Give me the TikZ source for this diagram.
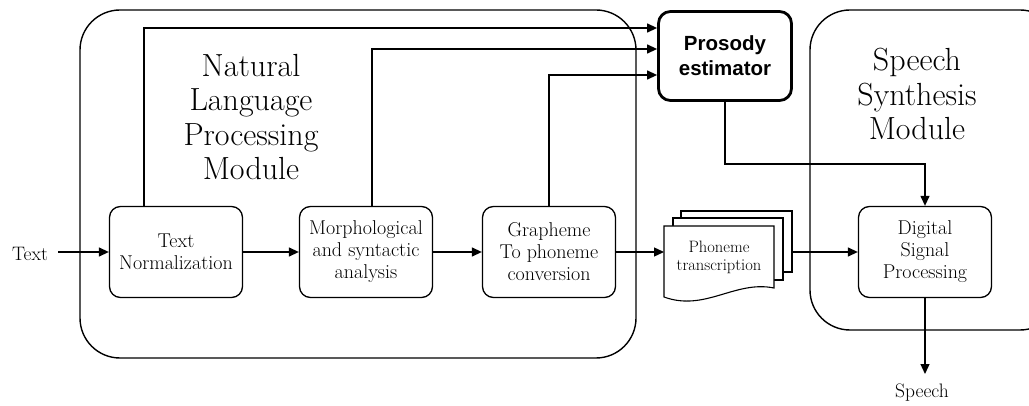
\documentclass[tikz,border=0pt]{standalone}
\usepackage{fontspec}
\newfontfamily\boldsans{Liberation Sans}[BoldFont=Liberation Sans Bold]
\usetikzlibrary{arrows.meta,positioning}
\begin{document}
\begin{tikzpicture}[x=1pt,y=-1pt,
  module/.style={draw,line width=1.4pt,rounded corners=40pt},
  block/.style={draw,line width=1.3pt,rounded corners=11pt,minimum width=133pt,minimum height=91pt,align=center,font=\fontsize{20}{22}\selectfont},
  flow/.style={line width=1.3pt,-{Triangle[length=10pt,width=9pt]}},
  title/.style={align=center,font=\fontsize{32}{34.5}\selectfont},
  lbl/.style={font=\fontsize{19.5}{22}\selectfont}]
\useasboundingbox (0,0) rectangle (1029,406);
% enclosing modules
\draw[module] (80,10) rectangle (636,358);
\begin{scope}
\clip (0,0) rectangle (1029,406);
\draw[module] (810,10) rectangle (1060,330);
\end{scope}
\node[title] (nlptitle) at (251,117) {Natural\\Language\\Processing\\Module};
\node[title] (sstitle) at (917,94) {Speech\\Synthesis\\Module};
% processing blocks
\node[block] (tn) at (176,252) {Text\\Normalization};
\node[block] (ms) at (366,252) {Morphological\\and syntactic\\analysis};
\node[block] (gp) at (549,252) {Grapheme\\To phoneme\\conversion};
\node[block] (dsp) at (925,252) {Digital\\Signal\\Processing};
\node[draw,line width=2.8pt,rounded corners=12pt,minimum width=133pt,minimum height=89pt,align=center,font=\boldsans\bfseries\fontsize{20.5}{25}\selectfont] (pe) at (725,56) {Prosody\\estimator};
% stacked document pile
\begin{scope}[line width=1.1pt]
\draw[fill=white] (681,211) -- (792,211) -- (792,272) -- (681,272) -- cycle;
\draw[fill=white] (673,218) -- (783,218) -- (783,280) -- (673,280) -- cycle;
\draw[fill=white] (664,226) -- (774,226) -- (774,288) .. controls (735,280) and (705,312) .. (664,297) -- cycle;
\end{scope}
\node[align=center,font=\fontsize{16.5}{18}\selectfont] (ph) at (719,257) {Phoneme\\transcription};
\coordinate (phin) at (664,252);
\coordinate (phout) at (792,252);
% input and output labels
\node[lbl] (txt) at (30,254) {Text};
\node[lbl] (sp) at (922,393) {Speech};
% main chain
\draw[flow] (58,252) -- (tn.west);
\draw[flow] (tn.east) -- (ms.west);
\draw[flow] (ms.east) -- (gp.west);
\draw[flow] (gp.east) -- (phin);
\draw[flow] (phout) -- (dsp.west);
\draw[flow] (dsp.south) -- (925,374);
% feeds into the prosody estimator
\draw[flow] (144,206) |- (pe.west |- 0,28);
\draw[flow] (372,206) |- (pe.west |- 0,49);
\draw[flow] (549,206) |- (pe.west |- 0,75);
\draw[flow] (pe.south) |- (925,164) -- (dsp.north);
\end{tikzpicture}
\end{document}
